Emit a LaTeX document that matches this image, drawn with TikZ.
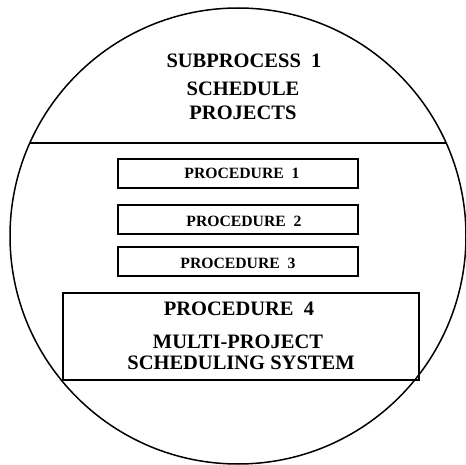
\documentclass[tikz,border=0pt]{standalone}
\usepackage{fontspec}
\setmainfont{Liberation Serif}
\begin{document}
\begin{tikzpicture}[x=1pt,y=-1pt,
  outline/.style={draw=black,line width=1.5pt},
  boxsmall/.style={outline,rectangle,minimum width=240pt,minimum height=29pt,inner sep=0pt},
  big/.style={font=\fontsize{20.5}{23}\selectfont\bfseries,anchor=base,inner sep=0pt},
  small/.style={font=\fontsize{15.7}{18}\selectfont\bfseries,anchor=base,inner sep=0pt}]
\useasboundingbox (0,0) rectangle (466,465);
% outer circle
\node[outline,circle,minimum size=456pt,inner sep=0pt] (whole) at (238,236) {};
% dividing chord
\coordinate (chordL) at (29.8,143);
\coordinate (chordR) at (446.2,143);
\draw[line width=1.5pt] (chordL) -- (chordR);
% title
\node[big] (t1) at (244,68) {SUBPROCESS\ \ 1};
\node[big] (t2) at (243,96) {SCHEDULE};
\node[big] (t3) at (243,120) {PROJECTS};
% procedure boxes
\node[boxsmall] (p1) at (238,173.5) {};
\node[boxsmall] (p2) at (238,219.5) {};
\node[boxsmall] (p3) at (238,261.5) {};
\node[small] (l1) at (242,179) {PROCEDURE\ \ 1};
\node[small] (l2) at (244,227) {PROCEDURE\ \ 2};
\node[small] (l3) at (238,269) {PROCEDURE\ \ 3};
\node[outline,rectangle,minimum width=356pt,minimum height=87pt,inner sep=0pt] (p4) at (241,336.5) {};
\node[big] (l4) at (239,316) {PROCEDURE\ \ 4};
\node[big] (l5) at (238,348) {MULTI-PROJECT};
\node[big] (l6) at (241,369) {SCHEDULING SYSTEM};
\end{tikzpicture}
\end{document}
